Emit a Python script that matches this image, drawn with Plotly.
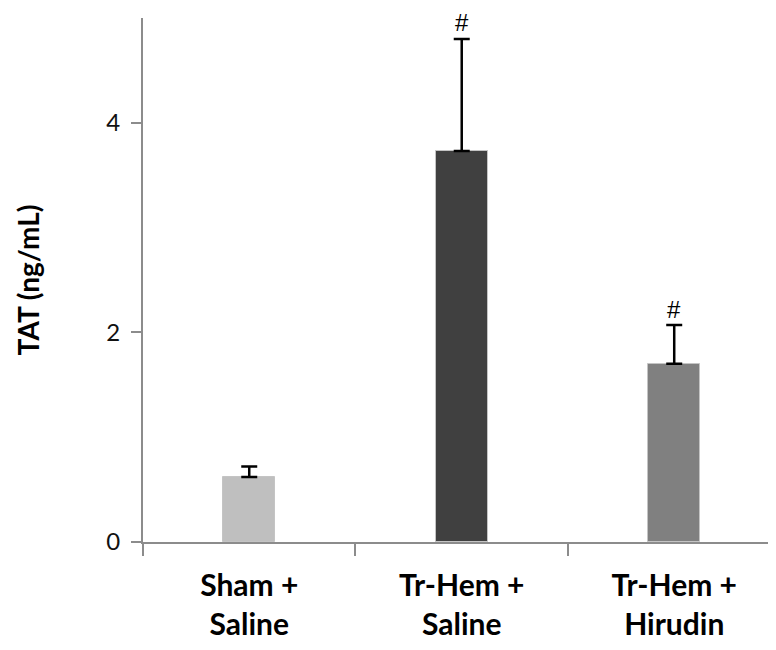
import plotly.graph_objects as go

categories = ["Sham +<br>Saline", "Tr-Hem +<br>Saline", "Tr-Hem +<br>Hirudin"]
values = [0.62, 3.73, 1.70]
errors = [0.10, 1.07, 0.37]
colors = ["#bfbfbf", "#404040", "#808080"]
marks = ["", "#", "#"]
y_ticks = [0, 2, 4]

FONT = "Lato"
AXIS = "#8c8c8c"

fig = go.Figure()
fig.add_trace(go.Bar(
    x=categories,
    y=values,
    width=0.245,
    marker=dict(color=colors, line=dict(width=1, color="#c4c4c4")),
    error_y=dict(type="data", array=errors, arrayminus=[0] * len(errors),
                 symmetric=False, color="black", thickness=2.5, width=8),
    showlegend=False,
))

for c, v, e, m in zip(categories, values, errors, marks):
    if m:
        fig.add_annotation(x=c, y=v + e, text=m, showarrow=False,
                           yanchor="middle", yshift=16,
                           font=dict(family="Liberation Sans", size=24, color="black"))

fig.update_layout(
    width=768, height=642,
    margin=dict(l=135, r=0, t=10, b=108),
    plot_bgcolor="white", paper_bgcolor="white",
    bargap=0,
    font=dict(family=FONT, color="black"),
)
fig.update_xaxes(
    range=[-0.5, 2.479],
    showline=True, linecolor=AXIS, linewidth=2,
    ticks="outside", tickson="boundaries", ticklen=12, tickwidth=2, tickcolor=AXIS,
    tickfont=dict(family=FONT, size=30, color="black", weight="bold"),
    ticklabelstandoff=16,
    showgrid=False, zeroline=False,
)
fig.update_yaxes(
    range=[0, 5],
    tickvals=y_ticks,
    showline=True, linecolor=AXIS, linewidth=2,
    ticks="outside", ticklen=10, tickwidth=2, tickcolor=AXIS,
    tickfont=dict(family=FONT, size=24, color="#111111"),
    ticklabelstandoff=6,
    showgrid=False, zeroline=False,
    title=dict(text="TAT (ng/mL)", standoff=58,
               font=dict(family=FONT, size=28, color="black", weight="bold")),
)

fig.write_html("out.html")
